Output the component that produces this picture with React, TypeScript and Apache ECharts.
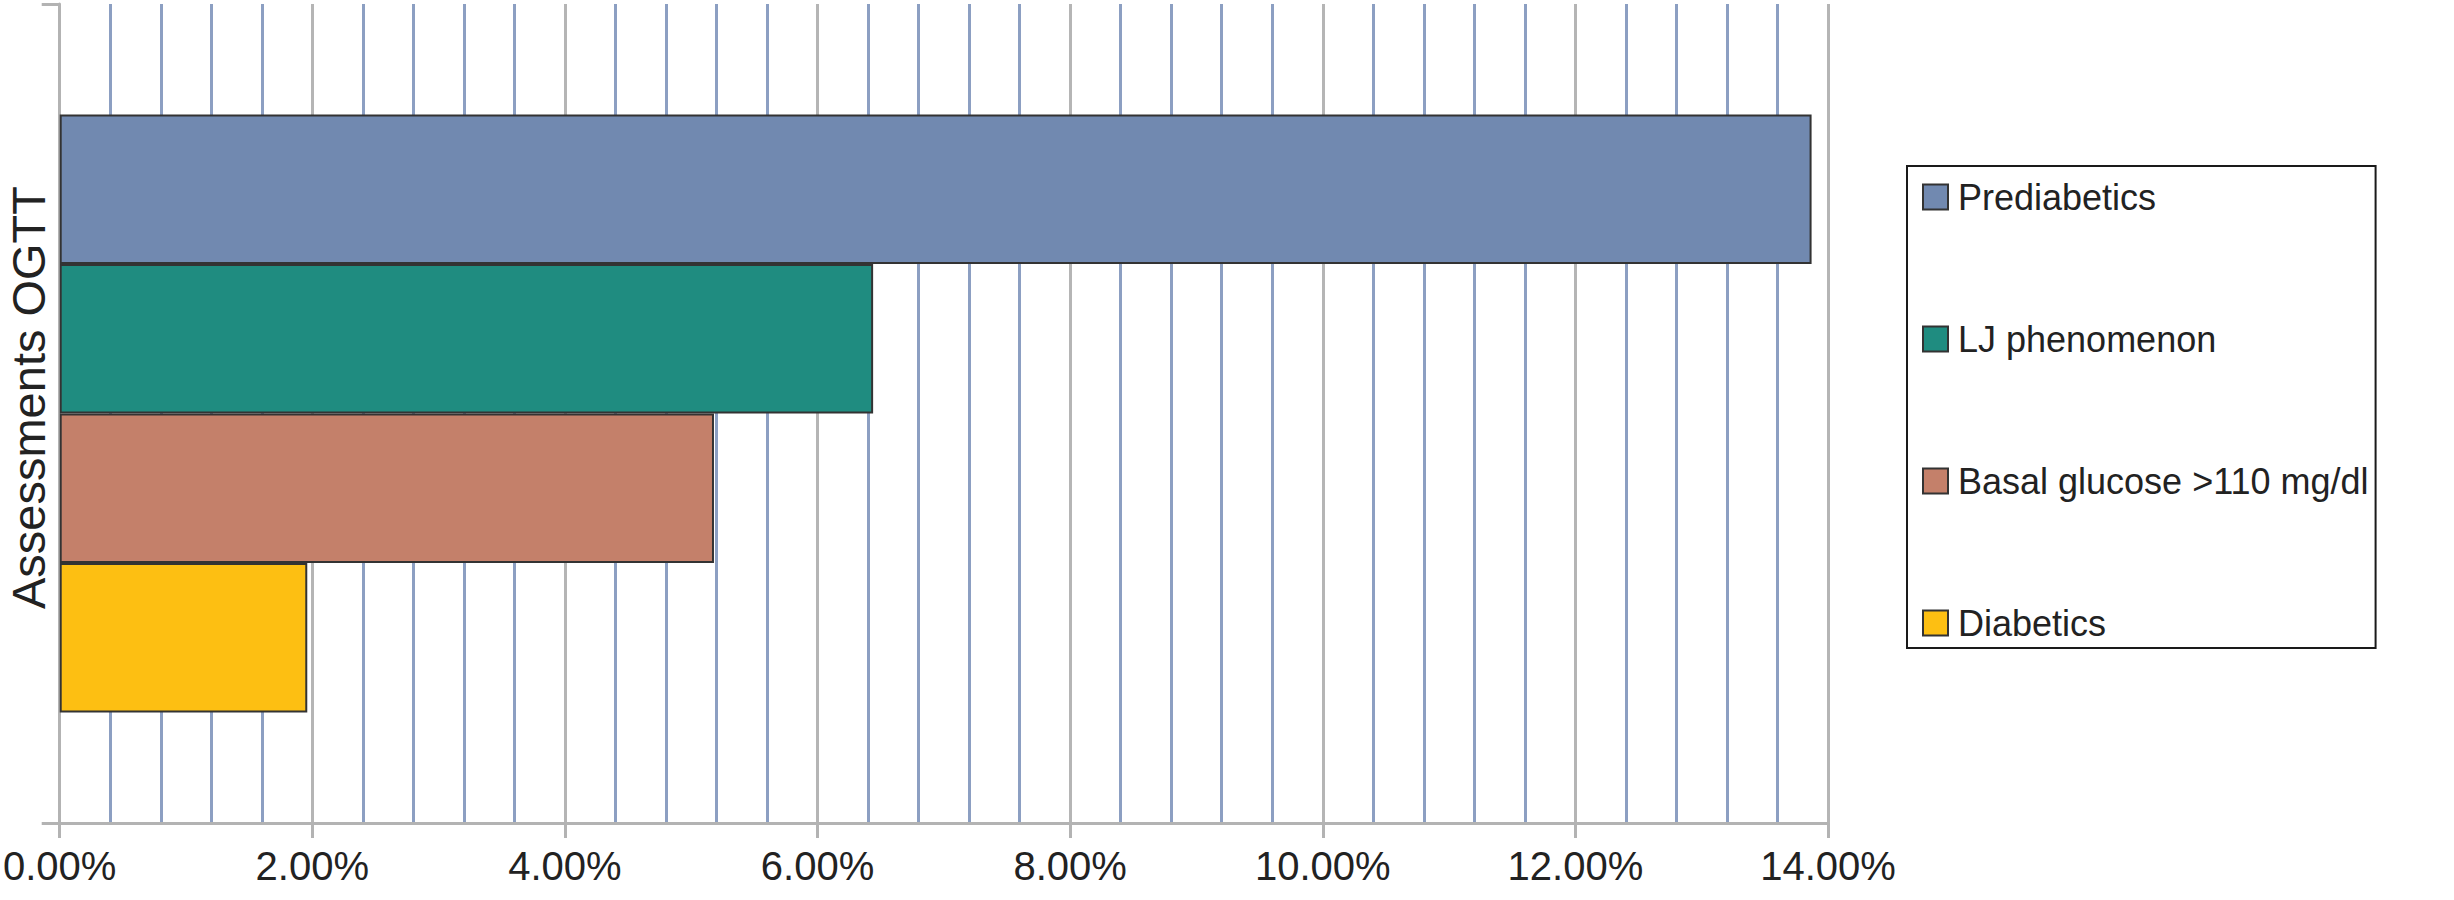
import React, { useEffect, useRef } from "react";
import * as echarts from "echarts";

const categories = ["Assessments OGTT"];
const seriesNames = ["Prediabetics", "LJ phenomenon", "Basal glucose >110 mg/dl", "Diabetics"];
const prediabetics = [13.87];
const ljPhenomenon = [6.44];
const basalGlucose = [5.18];
const diabetics = [1.96];
const seriesColors = ["#7189B0", "#1F8C80", "#C4806A", "#FDBF12"];
const xTickLabels = ["0.00%", "2.00%", "4.00%", "6.00%", "8.00%", "10.00%", "12.00%", "14.00%"];

const FONT = "Liberation Sans, Arial, Helvetica, sans-serif";

export default function App() {
  const ref = useRef<HTMLDivElement>(null);
  useEffect(() => {
    document.body.style.margin = "0";
    if (!ref.current) return;
    const chart = echarts.init(ref.current, undefined, { renderer: "svg" });
    const values = [prediabetics, ljPhenomenon, basalGlucose, diabetics];
    chart.setOption({
      animation: false,
      backgroundColor: "#ffffff",
      grid: { left: 55, right: 626, top: 4, bottom: 77, containLabel: false },
      legend: {
        orient: "vertical",
        left: 1907,
        top: 166,
        width: 465,
        data: seriesNames,
        padding: [13, 7, 7, 15],
        itemGap: 106,
        itemWidth: 25,
        itemHeight: 25,
        borderColor: "#1a1a1a",
        borderWidth: 2,
        icon: "rect",
        itemStyle: { borderColor: "#333333", borderWidth: 2 },
        textStyle: {
          fontFamily: FONT,
          fontSize: 36,
          color: "#222222",
          lineHeight: 36,
          padding: [0, 0, 0, 5],
        },
      },
      xAxis: {
        type: "value",
        min: 0,
        max: 14,
        interval: 2,
        axisLine: { show: true, lineStyle: { color: "#b3b3b3", width: 3 } },
        axisTick: { show: true, length: 15, lineStyle: { color: "#b3b3b3", width: 3 } },
        axisLabel: {
          margin: 23,
          fontFamily: FONT,
          fontSize: 40,
          color: "#222222",
          formatter: (v: number) => xTickLabels[Math.round(v / 2)] ?? v.toFixed(2) + "%",
        },
        splitLine: { show: true, lineStyle: { color: "#b5b5b5", width: 3 } },
        minorTick: { show: false, splitNumber: 5 },
        minorSplitLine: { show: true, lineStyle: { color: "#8c9fc2", width: 3 } },
      },
      yAxis: {
        type: "category",
        data: categories,
        inverse: true,
        axisLine: { show: true, onZero: false, lineStyle: { color: "#b3b3b3", width: 3 } },
        axisTick: { show: true, length: 18, lineStyle: { color: "#b3b3b3", width: 3 } },
        axisLabel: {
          rotate: 90,
          margin: 8,
          fontFamily: FONT,
          fontSize: 47,
          color: "#222222",
          padding: [0, 0, 0, 32],
        },
        splitLine: { show: false },
      },
      series: seriesNames.map((name, i) => ({
        name,
        type: "bar",
        data: values[i],
        barGap: "0%",
        barCategoryGap: "27%",
        itemStyle: { color: seriesColors[i], borderColor: "#333333", borderWidth: 2 },
      })),
    });
    return () => chart.dispose();
  }, []);
  return <div ref={ref} style={{ width: 2454, height: 900 }} />;
}
